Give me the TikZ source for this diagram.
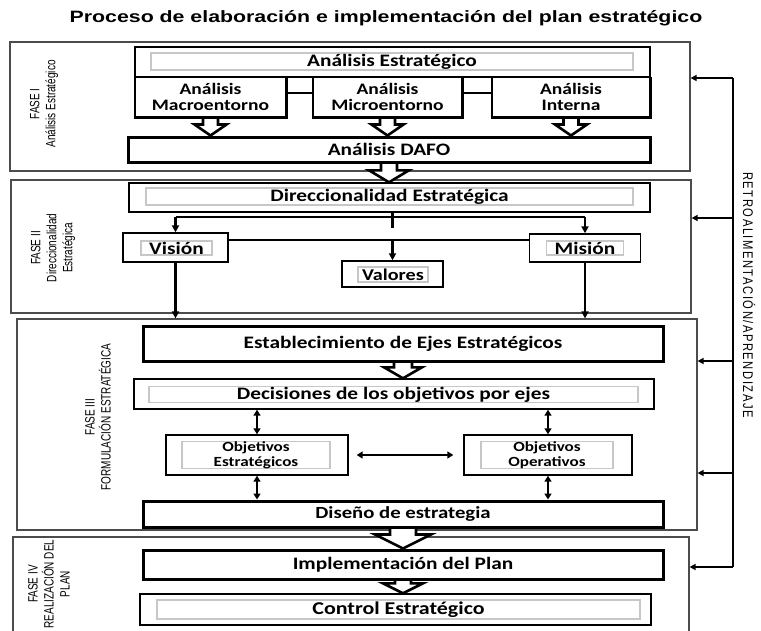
\documentclass[tikz,border=0pt]{standalone}
\usepackage{fontspec}
\setmainfont{Carlito}
\newfontfamily\boxfont[FakeStretch=1.22]{Carlito}
\newfontfamily\titlefont[FakeStretch=1.3]{Liberation Sans}
\newfontfamily\narrowfont[FakeStretch=0.74]{Liberation Sans}
\newfontfamily\fbfont[LetterSpace=11,FakeStretch=0.8]{Liberation Sans}
\usetikzlibrary{arrows.meta,calc}
\pgfdeclarelayer{bg}
\pgfdeclarelayer{mid}
\pgfsetlayers{bg,mid,main}

\newcommand\hollowarrow[5]{%
  \draw[blockarr] let \p1=(#1), \p2=(#2) in
  (\x1-#3pt,\y1) -- (\x1-#3pt,\y2+#5pt) -- (\x1-#4pt,\y2+#5pt) -- (\x1,\y2)
  -- (\x1+#4pt,\y2+#5pt) -- (\x1+#3pt,\y2+#5pt) -- (\x1+#3pt,\y1);}

\tikzset{
  frame/.style={draw=black!70, line width=1.2pt, inner sep=0pt},
  thinbox/.style={draw=black, line width=1.4pt, fill=white, inner sep=0pt},
  thickbox/.style={draw=black, line width=3pt, fill=white, inner sep=0pt},
  graybox/.style={draw=black!22, line width=1.3pt, inner sep=0pt},
  plainbox/.style={inner sep=0pt},
  subline/.style={line width=2.6pt, line join=miter},
  maintxt/.style={font=\boxfont\bfseries\fontsize{17.5}{20}\selectfont},
  subtxt/.style={font=\boxfont\bfseries\fontsize{16}{16}\selectfont, align=center},
  objtxt/.style={font=\boxfont\bfseries\fontsize{14}{15}\selectfont, align=center},
  phase/.style={rotate=90, align=center, font=\narrowfont\fontsize{13.5}{16}\selectfont},
  conn/.style={line width=2.8pt},
  conntwo/.style={line width=2pt},
  arr/.style={line width=2.6pt, -{Triangle[length=7pt,width=7pt]}},
  dbl/.style={line width=2.6pt, {Triangle[length=6pt,width=7pt]}-{Triangle[length=6pt,width=7pt]}},
  fbarr/.style={line width=2.6pt, -{Triangle[length=6pt,width=6pt]}},
  blockarr/.style={draw, line width=2.6pt, fill=white, line join=miter},
}

\begin{document}
\begin{tikzpicture}[x=1pt,y=-1pt]
\useasboundingbox (0,0) rectangle (761,630);

\node[font=\titlefont\bfseries\fontsize{16.4}{20}\selectfont] (title) at (386,18)
  {Proceso de elaboración e implementación del plan estratégico};

% phase frames
\begin{pgfonlayer}{bg}
\node[frame, minimum width=680, minimum height=129] (f1) at (350,106.5) {};
\node[frame, minimum width=680, minimum height=133] (f2) at (351,246.5) {};
\node[frame, minimum width=680, minimum height=211] (f3) at (357,424.5) {};
\node[frame, minimum width=676, minimum height=108] (f4) at (351,591) {};
\end{pgfonlayer}

% phase labels
\node[phase] (p1) at (44,104) {FASE I\\Análisis Estratégico};
\node[phase] (p2) at (53,248) {FASE II\\Direccionalidad\\Estratégica};
\node[phase] (p3) at (98,417) {FASE III\\FORMULACIÓN ESTRATÉGICA};
\node[phase] (p4) at (49,584) {FASE IV\\REALIZACIÓN DEL\\PLAN};

% FASE I
\node[thinbox, minimum width=515, minimum height=30] (ae) at (392.5,62) {};
\node[graybox, maintxt, minimum width=482, minimum height=17] (aet) at (392,61.5) {Análisis Estratégico};
\node[plainbox, subtxt, minimum width=151, minimum height=40] (mac) at (210.5,97) {Análisis\\Macroentorno};
\node[plainbox, subtxt, minimum width=149, minimum height=40] (mic) at (387.5,97) {Análisis\\Microentorno};
\node[plainbox, subtxt, minimum width=158, minimum height=40] (int) at (571,97) {Análisis\\Interna};
\draw[subline] (mac.north west) |- (mac.south east) -- (mac.north east);
\draw[subline] (mic.north west) |- (mic.south east) -- (mic.north east);
\draw[subline] (int.north west) |- (int.south east) -- (int.north east);
\draw[conn] ($(mac.east)+(0,-4)$) -- ($(mic.west)+(0,-4)$);
\draw[conn] ($(mic.east)+(0,-4)$) -- ($(int.west)+(0,-4)$);
\node[thickbox, maintxt, minimum width=522, minimum height=25] (dafo) at (389,149.5) {Análisis DAFO};

% FASE II
\node[thinbox, minimum width=521, minimum height=29] (dir) at (389.5,197.5) {};
\node[graybox, maintxt, minimum width=487, minimum height=17] (dirt) at (389.5,196.5) {Direccionalidad Estratégica};
\node[thinbox, minimum width=105, minimum height=29] (vis) at (175.5,247.5) {};
\node[graybox, maintxt, minimum width=71, minimum height=14] (vist) at (176.5,248) {Visión};
\node[thinbox, minimum width=111, minimum height=28] (mis) at (585,248) {};
\node[graybox, maintxt, minimum width=77, minimum height=14] (mist) at (585,248) {Misión};
\node[thinbox, minimum width=101, minimum height=26] (val) at (392.5,274) {};
\node[graybox, maintxt, font=\boxfont\bfseries\fontsize{16.5}{18}\selectfont, minimum width=70, minimum height=15] (valt) at (393,274.5) {Valores};

\coordinate (hl) at (0,217);
\coordinate (vm) at (0,240);
\coordinate (stubend) at (392.5,228);
\draw[conn] (val.north |- dir.south) -- (stubend);
\draw[conn] (vis.north |- hl) -- (mis.north |- hl);
\draw[arr] (vis.north |- hl) -- (vis.north);
\draw[arr] (mis.north |- hl) -- (mis.north);
\draw[conntwo] (vis.east |- vm) -- (mis.west |- vm);
\draw[arr] (val.north |- vm) -- (val.north);
\draw[arr] (vis.south) -- (vis.south |- f3.north);
\draw[arr] (mis.south) -- (mis.south |- f3.north);

% FASE III
\node[thickbox, maintxt, minimum width=520, minimum height=35] (est) at (403,343.5) {Establecimiento de Ejes Estratégicos};
\node[thinbox, minimum width=520, minimum height=30] (dec) at (394,394) {};
\node[graybox, maintxt, minimum width=489, minimum height=16] (dect) at (393.5,394.5) {Decisiones de los objetivos por ejes};
\node[thinbox, minimum width=182, minimum height=40] (obje) at (257,455) {};
\node[graybox, objtxt, minimum width=148, minimum height=24] (objet) at (256,455) {Objetivos\\Estratégicos};
\node[thinbox, minimum width=168, minimum height=40] (objo) at (548,455) {};
\node[graybox, objtxt, minimum width=132, minimum height=24] (objot) at (547,455) {Objetivos\\Operativos};
\node[thickbox, maintxt, font=\boxfont\bfseries\fontsize{17}{18}\selectfont, minimum width=520, minimum height=26] (dis) at (403,514) {Diseño de estrategia};
\draw[dbl] (obje.north |- dec.south) -- (obje.north);
\draw[dbl] (objo.north |- dec.south) -- (objo.north);
\draw[dbl] (obje.south) -- (obje.south |- dis.north);
\draw[dbl] (objo.south) -- (objo.south |- dis.north);
\draw[dbl, shorten <=8pt, shorten >=10pt] (obje.east) -- (objo.west);

% FASE IV
\node[thickbox, maintxt, minimum width=520, minimum height=29] (imp) at (403,564.5) {Implementación del Plan};
\node[thinbox, minimum width=511, minimum height=31] (ctl) at (395.5,609.5) {};
\node[graybox, maintxt, font=\boxfont\bfseries\fontsize{18}{20}\selectfont, minimum width=483, minimum height=19] (ctlt) at (398.5,609.5) {Control Estratégico};

% block arrows
\begin{pgfonlayer}{mid}
\hollowarrow{mac.south}{dafo.north}{7.5}{16}{11}
\hollowarrow{mic.south}{dafo.north}{7.5}{16}{11}
\hollowarrow{int.south}{dafo.north}{7.5}{16}{11}
\hollowarrow{dafo.south}{dir.north}{8}{20}{12}
\hollowarrow{est.south}{dec.north}{9}{19}{11}
\hollowarrow{dis.south}{imp.north}{13}{28}{14}
\hollowarrow{imp.south}{ctl.north}{8}{20}{10}
\end{pgfonlayer}

% feedback
\coordinate (fb1) at (733,78);
\coordinate (fb2) at (733,218);
\coordinate (fb3) at (733,361);
\coordinate (fb4) at (733,473);
\coordinate (fb5) at (733,567);
\draw[conn] (fb1) -- (fb5);
\draw[fbarr] (fb1) -- (f1.east |- fb1);
\draw[fbarr] (fb2) -- (f2.east |- fb2);
\draw[fbarr] (fb3) -- (f3.east |- fb3);
\draw[fbarr] (fb4) -- (f3.east |- fb4);
\draw[fbarr] (fb5) -- (f4.east |- fb5);
\node[font=\fbfont\fontsize{14}{14}\selectfont, rotate=-90] (fbt) at (749,295) {RETROALIMENTACIÓN/APRENDIZAJE};
\end{tikzpicture}
\end{document}
